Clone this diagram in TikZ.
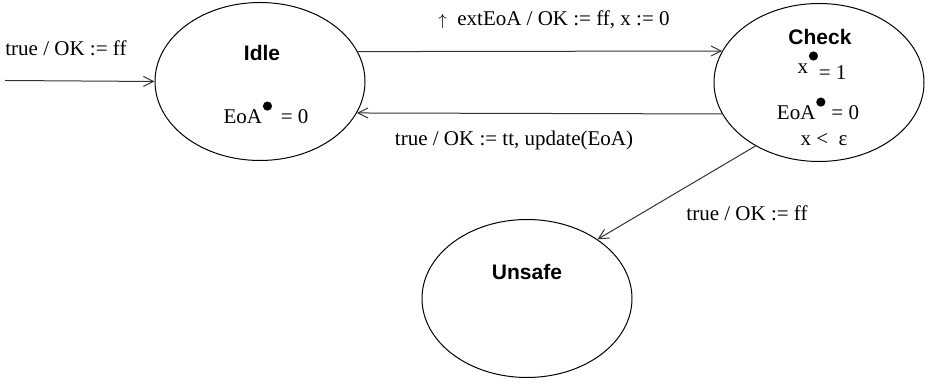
\documentclass[tikz,border=0pt]{standalone}
\usepackage{fontspec}
\setmainfont{Liberation Serif}
\setsansfont{Liberation Sans}
\usetikzlibrary{shapes.geometric,arrows.meta}
\newcommand{\bdot}{\hspace{0.4pt}\smash{\raisebox{6.6pt}{\tikz\fill (0,0) circle (2.3pt);}}\hspace{0.4pt}}
\begin{document}
\begin{tikzpicture}[x=0.5pt,y=-0.5pt,
  every node/.style={font=\fontsize{10.5}{12}\selectfont, inner sep=0pt},
  state/.style={draw, ellipse, line width=0.5pt, minimum width=105pt, minimum height=79pt},
  title/.style={font=\fontsize{10.5}{12}\selectfont\sffamily\bfseries},
  trans/.style={draw, line width=0.5pt, draw=black!80, -{Straight Barb[length=5pt,width=5pt,line width=0.5pt]}}]
\useasboundingbox (0,0) rectangle (928,383);
\node[state] (idle) at (260,81.5) {};
\node[state] (check) at (819,82.5) {};
\node[state] (unsafe) at (527,298.5) {};
% texts inside states
\node[title] (idleT) at (262,53) {Idle};
\node (idleE) at (266,117) {EoA\bdot\hspace{4pt}= 0};
\node[title] (checkT) at (820,37) {Check};
\node (checkX) at (822,72) {x\bdot\raisebox{-3pt}{= 1}};
\node (checkE) at (818,113) {EoA\bdot\ = 0};
\node (checkC) at (824,140) {x <\ \ ε};
\node[title] (unsafeT) at (527,272) {Unsafe};
% transitions
\coordinate (start) at (5,80.5);
\draw[trans] (start) -- (idle.west);
\draw[trans] (idle.17.5) -- (check.162);
\draw[trans] (check.198) -- (idle.-18.8);
\draw[trans] (check.225) -- (unsafe.40);
% labels
\node[anchor=west] (l0) at (5,48) {true / OK := ff};
\node (l1) at (554,20) {{\footnotesize$\uparrow$}\ \ extEoA / OK := ff, x := 0};
\node (l2) at (514,140) {true / OK := tt, update(EoA)};
\node (l3) at (747,213) {true / OK := ff};
\end{tikzpicture}
\end{document}
